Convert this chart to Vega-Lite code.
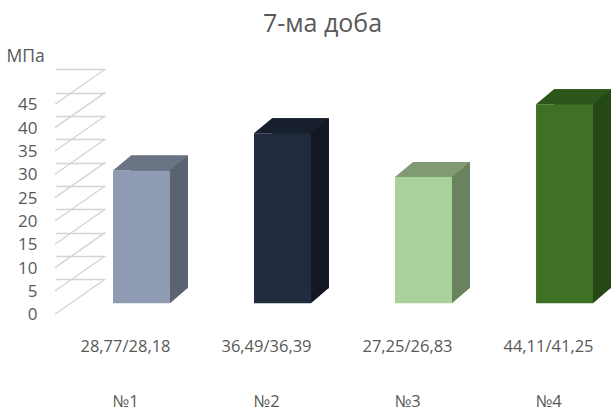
{
  "$schema": "https://vega.github.io/schema/vega-lite/v6.json",
  "width": 511,
  "height": 413,
  "autosize": {"type": "none"},
  "padding": {"left": 105, "top": 0, "right": 0, "bottom": 0},
  "background": "white",
  "title": {
    "text": "7-ма доба",
    "frame": "group",
    "anchor": "middle",
    "orient": "top",
    "offset": 0,
    "baseline": "alphabetic",
    "dy": 57,
    "dx": -38,
    "fontSize": 25,
    "fontWeight": "normal",
    "font": "Open Sans",
    "color": "#595959"
  },
  "config": {"view": {"stroke": null}, "font": "Open Sans"},
  "layer": [
    {
      "data": {"values": [{"v": 0}, {"v": 5}, {"v": 10}, {"v": 15}, {"v": 20}, {"v": 25}, {"v": 30}, {"v": 35}, {"v": 40}, {"v": 45}]},
      "mark": {"type": "rule", "color": "#d4d4d4", "strokeWidth": 1.4, "yOffset": 35},
      "encoding": {
        "y": {
          "field": "v",
          "type": "quantitative",
          "scale": {"domain": [0, 45], "range": [279.3, 69.3]},
          "axis": {
            "title": "МПа",
            "values": [0, 5, 10, 15, 20, 25, 30, 35, 40, 45],
            "grid": true,
            "gridColor": "#d4d4d4",
            "gridWidth": 1.4,
            "domain": false,
            "ticks": false,
            "tickSize": 0,
            "labelPadding": 68,
            "labelOffset": 35.5,
            "labelFontSize": 17,
            "labelColor": "#595959",
            "labelFont": "Open Sans",
            "labelBaseline": "middle",
            "titleAngle": 0,
            "titleAlign": "left",
            "titleBaseline": "alphabetic",
            "titleX": -99,
            "titleY": 61,
            "titleFontSize": 17.5,
            "titleFontWeight": "normal",
            "titleColor": "#595959",
            "titleFont": "Open Sans"
          }
        },
        "y2": {"field": "v"},
        "x": {"datum": 0, "type": "quantitative", "scale": {"domain": [0, 1], "range": [-50, 0]}, "axis": null},
        "x2": {"datum": 1}
      }
    },
    {
      "data": {
        "values": [
          {"cat": "№1", "value": 28.48, "label": "28,77/28,18"},
          {"cat": "№2", "value": 36.44, "label": "36,49/36,39"},
          {"cat": "№3", "value": 27.04, "label": "27,25/26,83"},
          {"cat": "№4", "value": 42.68, "label": "44,11/41,25"}
        ]
      },
      "layer": [
        {
          "mark": {"type": "bar", "xOffset": 18, "x2Offset": 18, "yOffset": 9, "y2Offset": 9},
          "encoding": {
            "x": {"field": "cat", "type": "nominal", "scale": {"type": "band", "range": [8, 488], "paddingInner": 0.596, "paddingOuter": 0}, "axis": null},
            "y": {"field": "value", "type": "quantitative"},
            "color": {"field": "cat", "type": "nominal", "scale": {"range": ["#5b6271", "#111822", "#6a825e", "#254915"]}, "legend": null}
          }
        },
        {
          "mark": {"type": "bar", "yOffset": 24, "y2Offset": 24},
          "encoding": {
            "x": {"field": "cat", "type": "nominal", "scale": {"type": "band", "range": [8, 488], "paddingInner": 0.596, "paddingOuter": 0}, "axis": null},
            "y": {"field": "value", "type": "quantitative"},
            "color": {"field": "cat", "type": "nominal", "scale": {"range": ["#8f9bb3", "#202b3d", "#a9d19a", "#3f7125"]}, "legend": null}
          }
        },
        {
          "mark": {"type": "point", "shape": "M-28.5,0L28.5,0L46.5,-15L-10.5,-15Z", "size": 4, "filled": true, "opacity": 1, "strokeWidth": 0, "yOffset": 24},
          "encoding": {
            "x": {"field": "cat", "type": "nominal", "scale": {"type": "band", "range": [8, 488], "paddingInner": 0.596, "paddingOuter": 0}, "axis": null},
            "y": {"field": "value", "type": "quantitative"},
            "color": {"field": "cat", "type": "nominal", "scale": {"range": ["#6b7484", "#18202d", "#809a74", "#2d561a"]}, "legend": null}
          }
        },
        {
          "mark": {"type": "point", "shape": "M28.5,-15.5L46.5,-15.5L28.5,0Z", "size": 4, "filled": true, "opacity": 1, "strokeWidth": 0, "yOffset": 24},
          "encoding": {
            "x": {"field": "cat", "type": "nominal", "scale": {"type": "band", "range": [8, 488], "paddingInner": 0.596, "paddingOuter": 0}, "axis": null},
            "y": {"datum": 0, "type": "quantitative"},
            "color": {"field": "cat", "type": "nominal", "scale": {"range": ["#5b6271", "#111822", "#6a825e", "#254915"]}, "legend": null}
          }
        },
        {
          "mark": {"type": "text", "xOffset": -16, "yOffset": 67.7, "fontSize": 16.5, "color": "#595959", "font": "Open Sans", "baseline": "middle"},
          "encoding": {
            "x": {"field": "cat", "type": "nominal", "scale": {"type": "band", "range": [8, 488], "paddingInner": 0.596, "paddingOuter": 0}, "axis": null},
            "y": {"datum": 0, "type": "quantitative"},
            "text": {"field": "label"}
          }
        },
        {
          "mark": {"type": "text", "xOffset": -16, "yOffset": 122.7, "fontSize": 16.5, "color": "#595959", "font": "Open Sans", "baseline": "middle"},
          "encoding": {
            "x": {"field": "cat", "type": "nominal", "scale": {"type": "band", "range": [8, 488], "paddingInner": 0.596, "paddingOuter": 0}, "axis": null},
            "y": {"datum": 0, "type": "quantitative"},
            "text": {"field": "cat"}
          }
        }
      ],
      "resolve": {"scale": {"color": "independent"}}
    }
  ],
  "resolve": {"scale": {"x": "independent"}}
}
